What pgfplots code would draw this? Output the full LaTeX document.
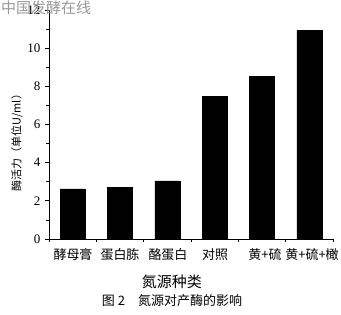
\documentclass[border=0pt]{standalone}
\usepackage{pgfplots}
\pgfplotsset{compat=1.18}
\usepackage{fontspec}
\setmainfont{Liberation Serif}
\newfontfamily\cjk{Noto Sans CJK SC}
\begin{document}
\begin{tikzpicture}
\useasboundingbox (0,0) rectangle (341pt,315pt);
\begin{axis}[
  at={(49pt,76pt)}, anchor=south west,
  scale only axis, width=284pt, height=229pt,
  xmin=-0.5, xmax=5.5, ymin=0, ymax=12,
  axis x line*=bottom, axis y line*=left,
  axis line style={line width=0.9pt},
  xtick={0,...,5}, xticklabels={},
  minor xtick={-0.5,0.5,...,5.5},
  major x tick style={draw=none},
  ytick={0,2,...,12}, minor y tick num=1,
  tick align=outside,
  major tick length=4pt, minor tick length=3pt,
  tick style={line width=0.8pt, black},
  ticklabel style={font=\fontsize{13}{13}\selectfont},
  /pgf/number format/assume math mode=true,
  yticklabel style={xshift=-1pt},
  clip=false,
]
\addplot[ybar, bar width=25pt, fill=black, draw=black] coordinates {
  (0,2.62) (1,2.69) (2,3.04) (3,7.49) (4,8.53) (5,10.94)};
\end{axis}
\begin{scope}[every node/.style={inner sep=0pt}]
\node[anchor=north west, text=gray!80] at (1pt,314pt) {\cjk\fontsize{15}{15}\selectfont 中国发酵在线};
\node[rotate=90] at (17pt,175pt) {\cjk\fontsize{11}{11}\selectfont 酶活力（单位U/ml）};
\foreach \x/\t in {73/酵母膏,120/蛋白胨,168/酪蛋白,215/对照,265/黄+硫,312/黄+硫+橄}{
  \node at (\x pt,60pt) {\cjk\fontsize{13}{13}\selectfont \t};
}
\node at (172pt,33pt) {\cjk\fontsize{15}{15}\selectfont 氮源种类};
\node at (172pt,14pt) {\cjk\fontsize{13}{13}\selectfont 图 2\quad 氮源对产酶的影响};
\end{scope}
\end{tikzpicture}
\end{document}
